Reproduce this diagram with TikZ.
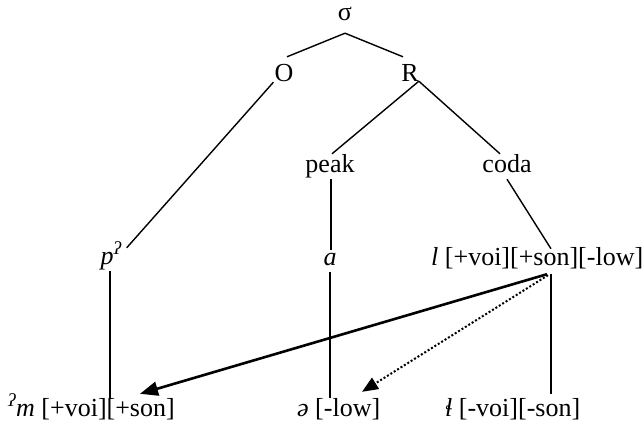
\documentclass[tikz,border=0pt]{standalone}
\usepackage{fontspec}
\setmainfont{Liberation Serif}
\usetikzlibrary{arrows.meta}
\begin{document}
\begin{tikzpicture}[x=1pt,y=-1pt,
  lab/.style={inner sep=1pt,text height=17pt,text depth=6pt,font=\fontsize{26}{30}\selectfont},
  edge/.style={line width=1.4pt},
  bigarrow/.style={line width=2.6pt,-{Triangle[length=18pt,width=14pt]}},
  dotarrow/.style={line width=2pt,dotted,-{Triangle[length=16pt,width=13pt]}}]
\useasboundingbox (0,0) rectangle (644,426);
% tree nodes
\node[lab,anchor=base] (sigma) at (345,20) {σ};
\node[lab,anchor=base] (O) at (284,81) {O};
\node[lab,anchor=base] (R) at (410,81) {R};
\node[lab,anchor=base] (peak) at (330,172) {peak};
\node[lab,anchor=base] (coda) at (507,172) {coda};
\node[lab,anchor=base] (p) at (111,264) {\textit{p}\textsuperscript{\itshape ʔ}};
\node[lab,anchor=base] (a) at (330,265) {\textit{a}};
\node[lab,anchor=base west] (l) at (430,265) {\textit{l} [+voi][+son][-low]};
\node[lab,anchor=base west] (mb) at (7,416) {\textsuperscript{\itshape ʔ}\textit{m} [+voi][+son]};
\node[lab,anchor=base west] (schwa) at (296,416) {\textit{ə} [-low]};
\node[lab,anchor=base west] (lb) at (444,416) {\textit{ɬ} [-voi][-son]};
\coordinate (ljoin) at ([xshift=121pt,yshift=-2pt]l.south west);
% tree edges
\draw[edge] ([yshift=-6pt]sigma.south) -- ([xshift=3pt,yshift=6pt]O.north);
\draw[edge] ([yshift=-6pt]sigma.south) -- ([xshift=-7pt,yshift=6pt]R.north);
\draw[edge] ([yshift=6pt]O.south west) -- ([xshift=4pt,yshift=-2pt]p.north east);
\draw[edge] ([xshift=-1pt,yshift=7pt]R.south east) -- ([xshift=2pt]peak.north);
\draw[edge] ([xshift=-1pt,yshift=7pt]R.south east) -- ([xshift=-7pt]coda.north);
\draw[edge] ([xshift=1pt]peak.south) -- ([xshift=1pt,yshift=-3pt]a.north);
\draw[edge] (coda.south) -- ([yshift=-2pt]ljoin |- l.north);
\draw[edge] ([xshift=-1pt]p.south) -- ([xshift=-1pt]p.south |- mb.north);
\draw[edge] (a.south) -- (a.south |- schwa.north);
\draw[edge] (ljoin) -- ([yshift=4pt]ljoin |- lb.north);
% arrows
\draw[bigarrow] ([xshift=-4pt]ljoin) -- ([xshift=133pt,yshift=4pt]mb.north west);
\draw[dotarrow] ([xshift=-3pt,yshift=-1pt]ljoin) -- ([xshift=66pt,yshift=6pt]schwa.north west);
\end{tikzpicture}
\end{document}
